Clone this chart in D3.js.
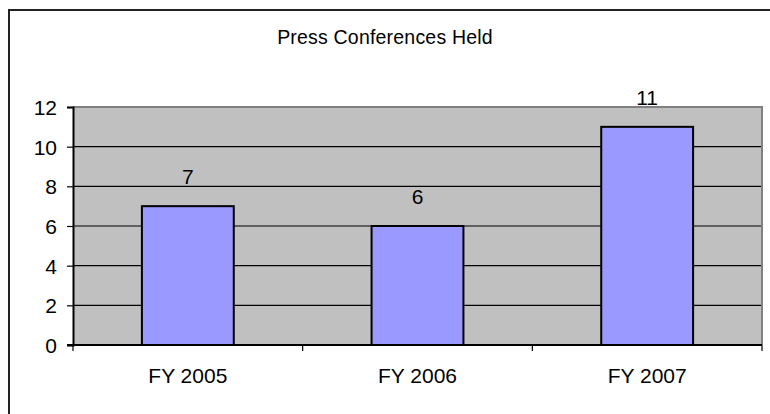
<!DOCTYPE html>
<html>
<head>
<meta charset="utf-8">
<script src="https://cdn.jsdelivr.net/npm/d3@7"></script>
<style>
  html, body { margin: 0; padding: 0; background: #fff; }
  svg text { font-family: "Liberation Sans", Arial, sans-serif; fill: #000; }
</style>
</head>
<body>
<svg id="chart" width="770" height="414"></svg>
<script>
const categories = ["FY 2005", "FY 2006", "FY 2007"];
const values = [7, 6, 11];
const yTicks = [0, 2, 4, 6, 8, 10, 12];
const titleText = "Press Conferences Held";

const svg = d3.select("#chart");
const plot = { left: 73, right: 762, top: 107, bottom: 345 };

// outer chart border (extends past right/bottom edges as in reference)
svg.append("rect")
  .attr("x", 9).attr("y", 10)
  .attr("width", 790).attr("height", 430)
  .attr("fill", "#fff").attr("stroke", "#222").attr("stroke-width", 2);

// title
svg.append("text")
  .attr("x", 385).attr("y", 44)
  .attr("text-anchor", "middle")
  .style("font-size", "19.5px")
  .style("letter-spacing", "0.2px")
  .text(titleText);

const x = d3.scaleBand()
  .domain(categories)
  .range([plot.left, plot.right])
  .paddingInner(0.6).paddingOuter(0.3);

const y = d3.scaleLinear().domain([0, 12]).range([plot.bottom, plot.top]);

// plot background
svg.append("rect")
  .attr("x", plot.left).attr("y", plot.top)
  .attr("width", plot.right - plot.left).attr("height", plot.bottom - plot.top)
  .attr("fill", "#C0C0C0");

// gridlines
svg.append("g").selectAll("line")
  .data(yTicks.filter(d => d > 0 && d < 12))
  .join("line")
  .attr("x1", plot.left).attr("x2", plot.right)
  .attr("y1", d => y(d)).attr("y2", d => y(d))
  .attr("stroke", "#000").attr("stroke-width", 1.2);

// plot border top/right gray
svg.append("path")
  .attr("d", `M${plot.left},${plot.top}H${plot.right}V${plot.bottom}`)
  .attr("fill", "none").attr("stroke", "#808080").attr("stroke-width", 2);

// bars
svg.append("g").selectAll("rect")
  .data(values)
  .join("rect")
  .attr("x", (d, i) => x(categories[i]))
  .attr("width", x.bandwidth())
  .attr("y", d => y(d))
  .attr("height", d => y(0) - y(d))
  .attr("fill", "#9999FF")
  .attr("stroke", "#000").attr("stroke-width", 2);

// value labels
svg.append("g").selectAll("text")
  .data(values)
  .join("text")
  .attr("x", (d, i) => x(categories[i]) + x.bandwidth() / 2)
  .attr("y", d => y(d) - 22)
  .attr("text-anchor", "middle")
  .style("font-size", "21px")
  .text(d => d);

// y axis
const yAxis = d3.axisLeft(y).tickValues(yTicks).tickSize(6).tickPadding(10);
const gy = svg.append("g").attr("transform", `translate(${plot.left},0)`).call(yAxis);
gy.select(".domain").attr("stroke", "#000").attr("stroke-width", 2);
gy.selectAll(".tick line").attr("stroke", "#000").attr("stroke-width", 1.2);
gy.selectAll(".tick text").style("font-size", "21px").attr("dy", "0.36em");

// x axis
const gx = svg.append("g").attr("transform", `translate(0,${plot.bottom})`);
gx.append("line")
  .attr("x1", plot.left - 6).attr("x2", plot.right)
  .attr("y1", 0).attr("y2", 0)
  .attr("stroke", "#000").attr("stroke-width", 2);
const step = (plot.right - plot.left) / categories.length;
gx.selectAll("line.ct")
  .data(d3.range(categories.length + 1))
  .join("line").attr("class", "ct")
  .attr("x1", i => plot.left + i * step).attr("x2", i => plot.left + i * step)
  .attr("y1", 0).attr("y2", 6)
  .attr("stroke", "#000").attr("stroke-width", 1.2);
gx.selectAll("text")
  .data(categories)
  .join("text")
  .attr("x", d => x(d) + x.bandwidth() / 2)
  .attr("y", 38)
  .attr("text-anchor", "middle")
  .style("font-size", "21px")
  .text(d => d);
</script>
</body>
</html>
